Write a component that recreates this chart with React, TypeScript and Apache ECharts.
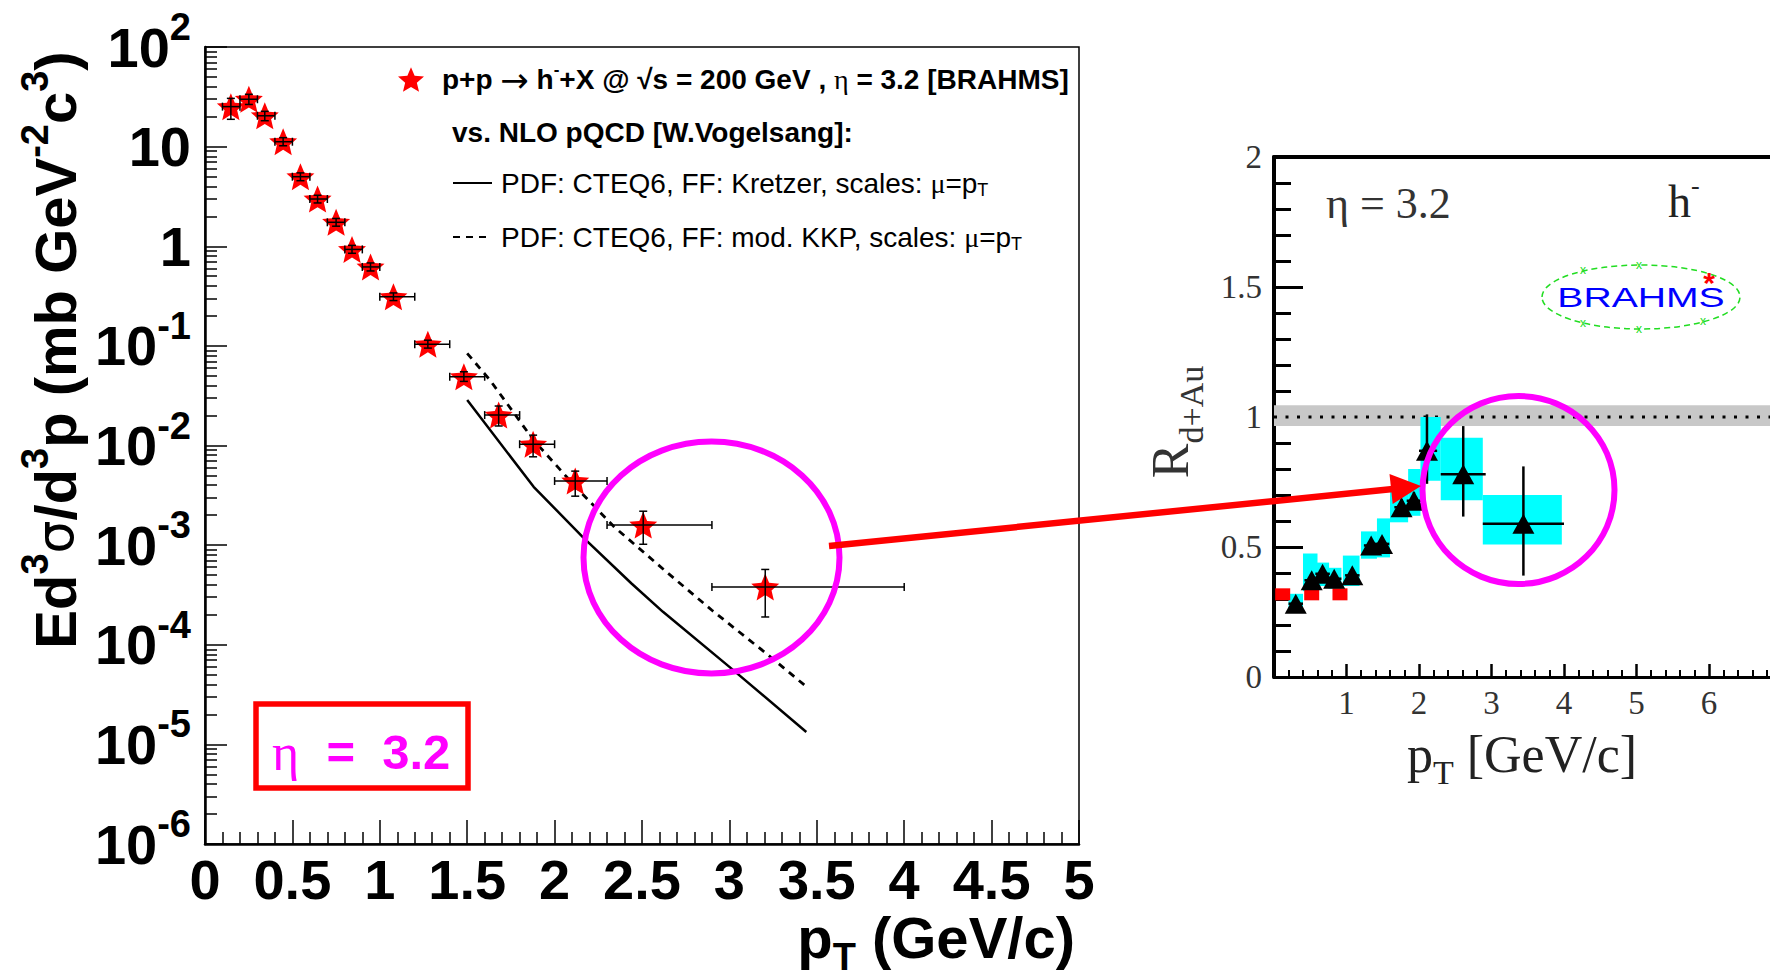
import React, { useEffect, useRef } from 'react';
import * as echarts from 'echarts';

// ---------------- Left panel: p+p -> h- + X @ sqrt(s)=200 GeV, eta = 3.2 ----------------
const ppPt = [0.148, 0.251, 0.342, 0.447, 0.546, 0.644, 0.750, 0.841, 0.947, 1.078, 1.275, 1.481, 1.680, 1.877, 2.118, 2.507, 3.205];
const ppPtLo = [0.1, 0.2, 0.3, 0.4, 0.5, 0.6, 0.7, 0.8, 0.9, 1.0, 1.2, 1.4, 1.6, 1.8, 2.0, 2.3, 2.9];
const ppPtHi = [0.2, 0.3, 0.4, 0.5, 0.6, 0.7, 0.8, 0.9, 1.0, 1.2, 1.4, 1.6, 1.8, 2.0, 2.3, 2.9, 4.0];
const ppYield = [25.2, 29.9, 20.4, 11.2, 4.99, 2.98, 1.74, 0.93, 0.62, 0.311, 0.104, 0.049, 0.0202, 0.0103, 0.0044, 0.00159, 0.000381];
const ppYieldLo = [18.8, 26.5, 18.2, 10.2, 4.55, 2.72, 1.59, 0.85, 0.565, 0.285, 0.095, 0.044, 0.0157, 0.0077, 0.0031, 0.00102, 0.00019];
const ppYieldHi = [30.5, 33.5, 22.6, 12.3, 5.45, 3.25, 1.90, 1.02, 0.68, 0.34, 0.114, 0.055, 0.0249, 0.0127, 0.00553, 0.00219, 0.00057];

// NLO pQCD (W. Vogelsang)
const kretzerPt = [1.50, 1.88, 2.16, 2.44, 2.62, 3.00, 3.44];
const kretzerY = [0.0286, 0.00385, 0.00121, 0.000412, 0.000214, 0.000060, 0.0000133];
const kkpPt = [1.50, 1.63, 1.88, 2.12, 2.34, 2.65, 2.90, 3.21, 3.44];
const kkpY = [0.0841, 0.0454, 0.0113, 0.00385, 0.00153, 0.00052, 0.000222, 0.000082, 0.000038];

const xTickLabels = ['0', '0.5', '1', '1.5', '2', '2.5', '3', '3.5', '4', '4.5', '5'];
const yTickValues = [1e-6, 1e-5, 1e-4, 1e-3, 1e-2, 1e-1, 1, 10, 100];
const yTickLabels = ['10^-6', '10^-5', '10^-4', '10^-3', '10^-2', '10^-1', '1', '10', '10^2'];

// ---------------- Right panel: R_dAu, h-, eta = 3.2 ----------------
const rdauPt = [0.30, 0.52, 0.67, 0.83, 1.08, 1.34, 1.49, 1.76, 1.93, 2.11, 2.61, 3.44];
const rdau = [0.282, 0.372, 0.397, 0.378, 0.391, 0.506, 0.512, 0.653, 0.678, 0.870, 0.780, 0.589];
const rdauPtLo = [0.20, 0.42, 0.57, 0.73, 0.98, 1.24, 1.39, 1.66, 1.83, 2.00, 2.30, 2.88];
const rdauPtHi = [0.40, 0.62, 0.77, 0.93, 1.18, 1.44, 1.59, 1.86, 2.03, 2.25, 2.92, 4.00];
const rdauLo = [0.262, 0.352, 0.375, 0.356, 0.367, 0.482, 0.486, 0.622, 0.645, 0.743, 0.617, 0.390];
const rdauHi = [0.302, 0.392, 0.419, 0.400, 0.415, 0.530, 0.538, 0.684, 0.711, 1.010, 0.965, 0.810];
const sysPtLo = [0.20, 0.40, 0.58, 0.75, 0.95, 1.20, 1.42, 1.60, 1.85, 2.02, 2.30, 2.88];
const sysPtHi = [0.40, 0.60, 0.76, 0.93, 1.18, 1.42, 1.60, 1.85, 2.02, 2.30, 2.88, 3.97];
const sysLo = [0.250, 0.330, 0.350, 0.340, 0.350, 0.455, 0.460, 0.595, 0.620, 0.755, 0.680, 0.510];
const sysHi = [0.320, 0.475, 0.440, 0.420, 0.467, 0.560, 0.610, 0.720, 0.800, 1.000, 0.920, 0.700];
const redPt = [0.12, 0.52, 0.91];
const redR = [0.318, 0.318, 0.318];
const normBand = [0.965, 1.045];
const unityPt = [0, 7];
const unityR = [1, 1];
const rXTickLabels = ['', '1', '2', '3', '4', '5', '6', ''];
const rYTickLabels = ['0', '0.5', '1', '1.5', '2'];

const FONT = "'Liberation Sans', Arial, Helvetica, sans-serif";
const SERIF = "'Liberation Serif', 'Times New Roman', serif";
const STAR = 'path://M0,-100 L26.5,-36.4 L95.1,-30.9 L42.8,13.9 L58.8,80.9 L0,45 L-58.8,80.9 L-42.8,13.9 L-95.1,-30.9 L-26.5,-36.4 Z';

const PP_NAME = 'p+p → h- + X BRAHMS';
const K_NAME = 'NLO CTEQ6 Kretzer';
const KKP_NAME = 'NLO CTEQ6 mod. KKP';

function errRender(caps: boolean, lw: number) {
  return (params: any, api: any) => {
    const x = api.value(0), y = api.value(1);
    const xl = api.value(2), xh = api.value(3), yl = api.value(4), yh = api.value(5);
    const pL = api.coord([xl, y]), pR = api.coord([xh, y]);
    const pB = api.coord([x, yl]), pT = api.coord([x, yh]);
    const style = { stroke: '#000', lineWidth: lw, fill: 'none' };
    const ch: any[] = [
      { type: 'line', shape: { x1: pL[0], y1: pL[1], x2: pR[0], y2: pR[1] }, style },
      { type: 'line', shape: { x1: pB[0], y1: pB[1], x2: pT[0], y2: pT[1] }, style },
    ];
    if (caps) {
      const c = 4;
      ch.push({ type: 'line', shape: { x1: pL[0], y1: pL[1] - c, x2: pL[0], y2: pL[1] + c }, style });
      ch.push({ type: 'line', shape: { x1: pR[0], y1: pR[1] - c, x2: pR[0], y2: pR[1] + c }, style });
      ch.push({ type: 'line', shape: { x1: pB[0] - c, y1: pB[1], x2: pB[0] + c, y2: pB[1] }, style });
      ch.push({ type: 'line', shape: { x1: pT[0] - c, y1: pT[1], x2: pT[0] + c, y2: pT[1] }, style });
    }
    return { type: 'group', children: ch };
  };
}

function boxRender(color: string) {
  return (params: any, api: any) => {
    const p1 = api.coord([api.value(2), api.value(5)]);
    const p2 = api.coord([api.value(3), api.value(4)]);
    return {
      type: 'rect',
      shape: { x: p1[0], y: p1[1], width: p2[0] - p1[0], height: p2[1] - p1[1] },
      style: { fill: color, stroke: 'none' },
    };
  };
}

function yLabel(v: number) {
  const i = yTickValues.findIndex((t) => Math.abs(Math.log10(t) - Math.log10(v)) < 1e-6);
  if (i < 0) return '';
  const parts = yTickLabels[i].split('^');
  return parts.length > 1 ? `{b|${parts[0]}}{s|${parts[1]}}` : `{b|${parts[0]}}`;
}

const yMinorValues: number[] = [];
for (let e = -6; e < 2; e++) for (let k = 2; k <= 9; k++) yMinorValues.push(k * Math.pow(10, e));

// rich-text token helpers (color for components, fill for graphic texts)
const tok = (family: string, size: number, col: string, extra: any = {}) => ({
  fontFamily: family, fontSize: size, lineHeight: size, color: col, fill: col, ...extra,
});
const bold = (size: number, extra: any = {}) => tok(FONT, size, '#000', { fontWeight: 'bold', ...extra });

function buildOption() {
  return {
    animation: false,
    backgroundColor: '#ffffff',
    textStyle: { fontFamily: FONT },
    grid: [
      { left: 205, top: 47, width: 874, height: 797, show: true, borderColor: '#000', borderWidth: 1.5, backgroundColor: 'transparent', containLabel: false, outerBoundsMode: 'none' },
      { left: 1274, top: 157, width: 507.5, height: 520, show: false, containLabel: false, outerBoundsMode: 'none' },
    ],
    legend: [
      {
        data: [PP_NAME], left: 398, top: 61, padding: 0, itemWidth: 26, itemHeight: 26, selectedMode: false,
        itemStyle: { opacity: 1 },
        formatter: () => '{a0|p+p }{ar|→}{a| h}{sup|-}{a|+X @ √s = 200 GeV , }{g|η}{a| = 3.2 [BRAHMS]}',
        textStyle: {
          color: '#000',
          rich: {
            a0: bold(28, { lineHeight: 34, padding: [0, 0, 0, 13] }),
            a: bold(28, { lineHeight: 34 }),
            ar: tok("'DejaVu Sans', sans-serif", 34, '#000', { lineHeight: 34 }),
            sup: bold(17, { lineHeight: 17, padding: [0, 0, 20, 0] }),
            g: tok(SERIF, 28, '#000', { lineHeight: 34 }),
          },
        },
      },
      {
        data: [K_NAME, KKP_NAME], orient: 'vertical', left: 452, top: 167, padding: 0, itemWidth: 39, itemHeight: 14, itemGap: 22, selectedMode: false,
        itemStyle: { opacity: 0, borderWidth: 0 },
        formatter: (name: string) => name === K_NAME
          ? '{n0|PDF: CTEQ6, FF: Kretzer, scales: }{g|μ}{n|=p}{sub|T}'
          : '{n0|PDF: CTEQ6, FF: mod. KKP, scales: }{g|μ}{n|=p}{sub|T}',
        textStyle: {
          color: '#000',
          rich: {
            n0: tok(FONT, 28, '#000', { lineHeight: 34, padding: [0, 0, 0, 4] }),
            n: tok(FONT, 28, '#000', { lineHeight: 34 }),
            g: tok(SERIF, 28, '#000', { lineHeight: 34 }),
            sub: tok(FONT, 18, '#000', { padding: [14, 0, 0, 0] }),
          },
        },
      },
    ],
    xAxis: [
      {
        gridIndex: 0, type: 'value', min: 0, max: 5, interval: 0.5,
        axisLine: { show: true, onZero: false, lineStyle: { color: '#000', width: 2.5 } },
        axisTick: { show: true, inside: true, length: 24, lineStyle: { color: '#000', width: 1.5 } },
        minorTick: { show: true, splitNumber: 5, length: 12, lineStyle: { color: '#000', width: 1.5 } },
        axisLabel: { fontFamily: FONT, fontWeight: 'bold', fontSize: 56, color: '#000', margin: 7, formatter: (v: number) => xTickLabels[Math.round(v / 0.5)] ?? '' },
        splitLine: { show: false },
      },
      {
        gridIndex: 1, type: 'value', min: 0, max: 7, interval: 1,
        axisLine: { show: true, onZero: false, lineStyle: { color: '#000', width: 3 } },
        axisTick: { show: true, inside: true, length: 13, lineStyle: { color: '#000', width: 2.5 } },
        minorTick: { show: true, splitNumber: 5, length: 7, lineStyle: { color: '#000', width: 2 } },
        axisLabel: { fontFamily: SERIF, fontSize: 33, color: '#333', margin: 9, formatter: (v: number) => rXTickLabels[Math.round(v)] ?? '' },
        splitLine: { show: false },
      },
      {
        gridIndex: 1, type: 'value', position: 'top', min: 0, max: 7, interval: 1,
        axisLine: { show: true, onZero: false, lineStyle: { color: '#000', width: 4 } },
        axisTick: { show: false }, axisLabel: { show: false }, splitLine: { show: false },
      },
    ],
    yAxis: [
      {
        gridIndex: 0, type: 'log', logBase: 10, min: 1e-6, max: 100, splitNumber: 8,
        axisLine: { show: true, onZero: false, lineStyle: { color: '#000', width: 2.5 } },
        axisTick: { show: true, inside: true, length: 22, lineStyle: { color: '#000', width: 1.5 }, customValues: yTickValues },
        axisLabel: {
          customValues: yTickValues, margin: 14, formatter: yLabel,
          rich: {
            b: bold(56, { lineHeight: 58 }),
            s: bold(38, { lineHeight: 38, padding: [0, 0, 40, 0] }),
          },
        },
        splitLine: { show: false },
      },
      {
        gridIndex: 0, type: 'log', logBase: 10, min: 1e-6, max: 100, position: 'left',
        axisLine: { show: false },
        axisTick: { show: true, inside: true, length: 12, lineStyle: { color: '#000', width: 1.5 }, customValues: yMinorValues },
        axisLabel: { show: false },
        splitLine: { show: false },
      },
      {
        gridIndex: 1, type: 'value', min: 0, max: 2, interval: 0.5,
        axisLine: { show: true, onZero: false, lineStyle: { color: '#000', width: 4 } },
        axisTick: { show: true, inside: true, length: 29, lineStyle: { color: '#000', width: 3 } },
        minorTick: { show: true, splitNumber: 5, length: 17, lineStyle: { color: '#000', width: 3 } },
        axisLabel: { fontFamily: SERIF, fontSize: 33, color: '#333', margin: 12, formatter: (v: number) => rYTickLabels[Math.round(v / 0.5)] ?? '' },
        splitLine: { show: false },
      },
    ],
    series: [
      {
        name: K_NAME, type: 'line', xAxisIndex: 0, yAxisIndex: 0, z: 2,
        data: kretzerPt.map((x, i) => [x, kretzerY[i]]), showSymbol: false, symbol: 'none', smooth: false,
        lineStyle: { color: '#000', width: 2.5, type: 'solid' }, itemStyle: { color: '#000' },
      },
      {
        name: KKP_NAME, type: 'line', xAxisIndex: 0, yAxisIndex: 0, z: 2,
        data: kkpPt.map((x, i) => [x, kkpY[i]]), showSymbol: false, symbol: 'none', smooth: false,
        lineStyle: { color: '#000', width: 2.8, type: [7, 6] }, itemStyle: { color: '#000' },
      },
      {
        name: PP_NAME, type: 'scatter', xAxisIndex: 0, yAxisIndex: 0, z: 3,
        symbol: STAR, symbolSize: [28, 27], itemStyle: { color: '#ff0000', opacity: 1 },
        data: ppPt.map((x, i) => [x, ppYield[i]]),
      },
      {
        name: 'pp errors', type: 'custom', xAxisIndex: 0, yAxisIndex: 0, z: 4,
        encode: { x: 0, y: 1 },
        renderItem: errRender(true, 1.5),
        data: ppPt.map((x, i) => [x, ppYield[i], ppPtLo[i], ppPtHi[i], ppYieldLo[i], ppYieldHi[i]]),
      },
      // right panel
      {
        name: 'normalization band', type: 'custom', xAxisIndex: 1, yAxisIndex: 2, z: 1,
        encode: { x: 0, y: 1 },
        renderItem: boxRender('#c8c8c8'),
        data: [[unityPt[0], unityR[0], unityPt[0], unityPt[1], normBand[0], normBand[1]]],
      },
      {
        name: 'unity', type: 'line', xAxisIndex: 1, yAxisIndex: 2, z: 2,
        data: unityPt.map((x, i) => [x, unityR[i]]), showSymbol: false, symbol: 'none',
        lineStyle: { color: '#000', width: 3, type: [3, 8.5] },
      },
      {
        name: 'systematic', type: 'custom', xAxisIndex: 1, yAxisIndex: 2, z: 3,
        encode: { x: 0, y: 1 },
        renderItem: boxRender('#00ffff'),
        data: rdauPt.map((x, i) => [x, rdau[i], sysPtLo[i], sysPtHi[i], sysLo[i], sysHi[i]]),
      },
      {
        name: 'red points', type: 'scatter', xAxisIndex: 1, yAxisIndex: 2, z: 4,
        symbol: 'rect', symbolSize: [15, 12], itemStyle: { color: '#ff0000', opacity: 1 },
        data: redPt.map((x, i) => [x, redR[i]]),
      },
      {
        name: 'R_dAu h-', type: 'scatter', xAxisIndex: 1, yAxisIndex: 2, z: 5,
        symbol: 'triangle', symbolSize: [22, 20], itemStyle: { color: '#000', opacity: 1 },
        data: rdauPt.map((x, i) => [x, rdau[i]]),
      },
      {
        name: 'R_dAu errors', type: 'custom', xAxisIndex: 1, yAxisIndex: 2, z: 6,
        encode: { x: 0, y: 1 },
        renderItem: errRender(false, 2.5),
        data: rdauPt.map((x, i) => [x, rdau[i], rdauPtLo[i], rdauPtHi[i], rdauLo[i], rdauHi[i]]),
      },
    ],
    graphic: [
      // left y title
      {
        type: 'text', x: 55, y: 350, rotation: Math.PI / 2, z: 50,
        style: {
          text: '{b|Ed}{s|3}{g|σ}{b|/d}{s|3}{b|p (mb GeV}{s|-2}{b|c}{s|3}{b|)}',
          align: 'center', verticalAlign: 'middle', textAlign: 'center', textVerticalAlign: 'middle',
          rich: {
            b: bold(58, { lineHeight: 58 }),
            s: bold(38, { lineHeight: 38, padding: [0, 0, 40, 0] }),
            g: tok("'DejaVu Sans', sans-serif", 52, '#000', { lineHeight: 58 }),
          },
        },
      },
      // left x title
      {
        type: 'text', x: 1075, y: 937, z: 50,
        style: {
          text: '{b|p}{sub|T}{b| (GeV/c)}',
          align: 'right', verticalAlign: 'middle', textAlign: 'right', textVerticalAlign: 'middle',
          rich: {
            b: bold(58, { lineHeight: 58 }),
            sub: bold(38, { lineHeight: 38, padding: [40, 0, 0, 0] }),
          },
        },
      },
      // legend middle line
      {
        type: 'text', x: 452, y: 132, z: 50,
        style: { text: 'vs. NLO pQCD [W.Vogelsang]:', fontFamily: FONT, fontWeight: 'bold', fontSize: 28, fill: '#000', align: 'left', verticalAlign: 'middle', textAlign: 'left', textVerticalAlign: 'middle' },
      },
      // eta = 3.2 box
      {
        type: 'rect', z: 50, shape: { x: 256, y: 704, width: 212, height: 84 },
        style: { fill: 'none', stroke: '#ff0000', lineWidth: 5.5 },
      },
      {
        type: 'text', x: 272, y: 752, z: 51,
        style: {
          text: '{e|η}{t|  =  3.2}', fill: '#ff00ff', align: 'left', verticalAlign: 'middle', textAlign: 'left', textVerticalAlign: 'middle',
          rich: {
            e: tok(SERIF, 52, '#ff00ff'),
            t: tok(FONT, 49, '#ff00ff', { fontWeight: 'bold', lineHeight: 52 }),
          },
        },
      },
      // magenta ellipses
      { type: 'ellipse', z: 60, shape: { cx: 711.5, cy: 557.5, rx: 128, ry: 116 }, style: { fill: 'none', stroke: '#ff00ff', lineWidth: 6 } },
      { type: 'ellipse', z: 60, shape: { cx: 1518.5, cy: 490, rx: 96, ry: 94 }, style: { fill: 'none', stroke: '#ff00ff', lineWidth: 6 } },
      // red arrow
      { type: 'line', z: 61, shape: { x1: 829, y1: 546, x2: 1393, y2: 489 }, style: { stroke: '#ff0000', lineWidth: 6.5 } },
      { type: 'polygon', z: 61, shape: { points: [[1421, 486], [1389.5, 474], [1392.7, 504]] }, style: { fill: '#ff0000', stroke: 'none' } },
      // right titles
      {
        type: 'text', x: 1170, y: 422, rotation: Math.PI / 2, z: 50,
        style: {
          text: '{r|R}{sub|d+Au}', fill: '#333', align: 'center', verticalAlign: 'middle', textAlign: 'center', textVerticalAlign: 'middle',
          rich: {
            r: tok(SERIF, 52, '#333'),
            sub: tok(SERIF, 34, '#333', { padding: [42, 0, 0, 0] }),
          },
        },
      },
      {
        type: 'text', x: 1522, y: 754, z: 50,
        style: {
          text: '{r|p}{sub|T}{r| [GeV/c]}', fill: '#222', align: 'center', verticalAlign: 'middle', textAlign: 'center', textVerticalAlign: 'middle',
          rich: {
            r: tok(SERIF, 52, '#222'),
            sub: tok(SERIF, 34, '#222', { padding: [36, 0, 0, 0] }),
          },
        },
      },
      {
        type: 'text', x: 1326, y: 203, z: 50,
        style: { text: 'η = 3.2', fontFamily: SERIF, fontSize: 44, fill: '#333', align: 'left', verticalAlign: 'middle', textAlign: 'left', textVerticalAlign: 'middle' },
      },
      {
        type: 'text', x: 1668, y: 201, z: 50,
        style: {
          text: '{g|h}{sup|-}', fill: '#222', align: 'left', verticalAlign: 'middle', textAlign: 'left', textVerticalAlign: 'middle',
          rich: {
            g: tok(SERIF, 46, '#222'),
            sup: tok(SERIF, 26, '#222', { padding: [0, 0, 32, 0] }),
          },
        },
      },
      // BRAHMS logo
      { type: 'ellipse', z: 50, shape: { cx: 1641, cy: 297, rx: 99, ry: 32 }, style: { fill: 'none', stroke: '#22dd22', lineWidth: 1.5, lineDash: [6, 4] } },
      {
        type: 'text', x: 1641, y: 298, scaleX: 1.45, z: 51,
        style: { text: 'BRAHMS', fontFamily: FONT, fontSize: 27, fill: '#0000ff', align: 'center', verticalAlign: 'middle', textAlign: 'center', textVerticalAlign: 'middle' },
      },
      ...[[1583, 270], [1639, 265], [1583, 323], [1639, 329], [1703, 321]].map((p) => ({
        type: 'text', x: p[0], y: p[1], z: 52,
        style: { text: 'x', fontFamily: FONT, fontSize: 12, fill: '#22dd22', align: 'center', verticalAlign: 'middle', textAlign: 'center', textVerticalAlign: 'middle' },
      })),
      {
        type: 'text', x: 1709, y: 282, z: 52,
        style: { text: '*', fontFamily: FONT, fontWeight: 'bold', fontSize: 30, fill: '#ff0000', align: 'center', verticalAlign: 'middle', textAlign: 'center', textVerticalAlign: 'middle' },
      },
    ],
  };
}

export default function App() {
  const ref = useRef<HTMLDivElement>(null);
  useEffect(() => {
    if (!ref.current) return;
    const chart = echarts.init(ref.current, null, { renderer: 'svg' });
    chart.setOption(buildOption() as any);
    return () => chart.dispose();
  }, []);
  return (
    <div
      ref={ref}
      style={{ position: 'fixed', left: 0, top: 0, width: 1770, height: 979, background: '#fff' }}
    />
  );
}
